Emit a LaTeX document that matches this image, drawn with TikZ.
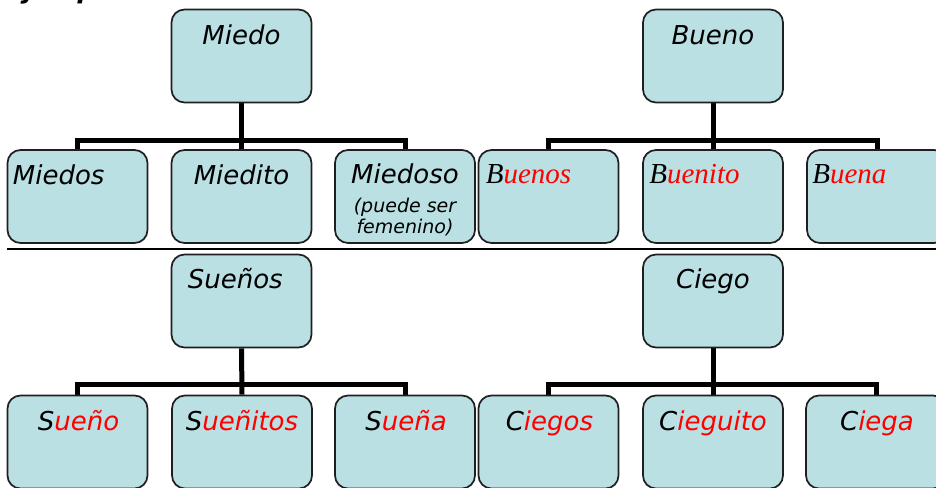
\documentclass[tikz,border=0pt]{standalone}
\usepackage{fontspec}
\setmainfont{DejaVu Sans}
\newfontfamily\tnrfont{Liberation Serif}
\usetikzlibrary{calc,backgrounds}
\definecolor{boxfill}{RGB}{186,224,227}
\definecolor{wordred}{RGB}{255,0,0}
\begin{document}
\begin{tikzpicture}[x=1pt,y=-1pt,
  wbox/.style={draw=black!88, line width=1.7pt, fill=boxfill, rounded corners=13pt,
    minimum width=140pt, minimum height=93pt, inner sep=0pt},
  conn/.style={line width=5pt, draw=black, line join=miter},
  sepline/.style={line width=2.4pt, draw=black},
  lbl/.style={font=\itshape\fontsize{26}{28}\selectfont, inner sep=0pt},
  slbl/.style={font=\itshape\fontsize{19}{21}\selectfont, inner sep=0pt},
  tlbl/.style={font=\tnrfont\itshape\fontsize{29}{31}\selectfont, inner sep=0pt}]
\useasboundingbox (0,0) rectangle (936,487);

% partially visible title
\node[font=\bfseries\itshape\fontsize{26}{28}\selectfont, inner sep=0pt, anchor=base west] (title) at (6,-1) {Ejemplos};

% top half
\node[wbox] (miedo) at (241.5,56) {};
\node[wbox] (bueno) at (713,56) {};
\node[wbox] (miedos) at (77.5,196.5) {};
\node[wbox] (miedito) at (241.5,196.5) {};
\node[wbox] (miedoso) at (405,196.5) {};
\node[wbox] (buenos) at (548.5,196.5) {};
\node[wbox] (buenito) at (713,196.5) {};
\node[wbox] (buena) at (877,196.5) {};

% bottom half
\node[wbox] (suenos) at (241.5,301) {};
\node[wbox] (ciego) at (713,301) {};
\node[wbox] (sueno) at (77.5,442) {};
\node[wbox] (suenitos) at (242,442) {};
\node[wbox] (suena) at (405,442) {};
\node[wbox] (ciegos) at (548.5,442) {};
\node[wbox] (cieguito) at (713,442) {};
\node[wbox] (ciega) at (876,442) {};

% connectors
\coordinate (barA) at (241.5,140);
\coordinate (barB) at (713,140);
\coordinate (barC) at (241.5,384);
\coordinate (barD) at (713,384);
\begin{scope}[on background layer]
  \draw[conn] (miedo.south) -- (miedito.north);
  \draw[conn] (miedos.north) |- (barA) -| (miedoso.north);
  \draw[conn] (bueno.south) -- (buenito.north);
  \draw[conn] (buenos.north) |- (barB) -| (buena.north);
  \draw[conn] (suenos.south) -- (suenitos.north);
  \draw[conn] (sueno.north) |- (barC) -| (suena.north);
  \draw[conn] (ciego.south) -- (cieguito.north);
  \draw[conn] (ciegos.north) |- (barD) -| (ciega.north);
\end{scope}

% separator
\coordinate (sepL) at (7,249);
\coordinate (sepR) at (936,249);
\draw[sepline] (sepL) -- (sepR);

% labels top
\node[lbl, anchor=base] (miedoT) at ($(miedo.north)+(0,36)$) {Miedo};
\node[lbl, anchor=base] (buenoT) at ($(bueno.north)+(0,36)$) {Bueno};
\node[lbl, anchor=base west] (miedosT) at ($(miedos.north west)+(6,35)$) {Miedos};
\node[lbl, anchor=base] (mieditoT) at ($(miedito.north)+(0,35)$) {Miedito};
\node[lbl, anchor=base] (miedosoT) at ($(miedoso.north)+(0,34)$) {Miedoso};
\node[slbl, anchor=base] (miedosoA) at ($(miedoso.north)+(0,63)$) {(puede ser};
\node[slbl, anchor=base] (miedosoB) at ($(miedoso.north)+(0,84)$) {femenino)};
\node[tlbl, anchor=base west] (buenosT) at ($(buenos.north west)+(8,34)$) {B\textcolor{wordred}{uenos}};
\node[tlbl, anchor=base west] (buenitoT) at ($(buenito.north west)+(7,34)$) {B\textcolor{wordred}{uenito}};
\node[tlbl, anchor=base west] (buenaT) at ($(buena.north west)+(6,34)$) {B\textcolor{wordred}{uena}};

% labels bottom
\node[lbl, anchor=base west] (suenosT) at ($(suenos.north west)+(17,35)$) {Sueños};
\node[lbl, anchor=base] (ciegoT) at ($(ciego.north)+(0,35)$) {Ciego};
\node[lbl, anchor=base] (suenoT) at ($(sueno.north)+(1,36)$) {S\textcolor{wordred}{ueño}};
\node[lbl, anchor=base] (suenitosT) at ($(suenitos.north)+(0,36)$) {S\textcolor{wordred}{ueñitos}};
\node[lbl, anchor=base] (suenaT) at ($(suena.north)+(1,36)$) {S\textcolor{wordred}{ueña}};
\node[lbl, anchor=base] (ciegosT) at ($(ciegos.north)+(1,36)$) {C\textcolor{wordred}{iegos}};
\node[lbl, anchor=base] (cieguitoT) at ($(cieguito.north)+(0,36)$) {C\textcolor{wordred}{ieguito}};
\node[lbl, anchor=base] (ciegaT) at ($(ciega.north)+(1,36)$) {C\textcolor{wordred}{iega}};
\end{tikzpicture}
\end{document}
